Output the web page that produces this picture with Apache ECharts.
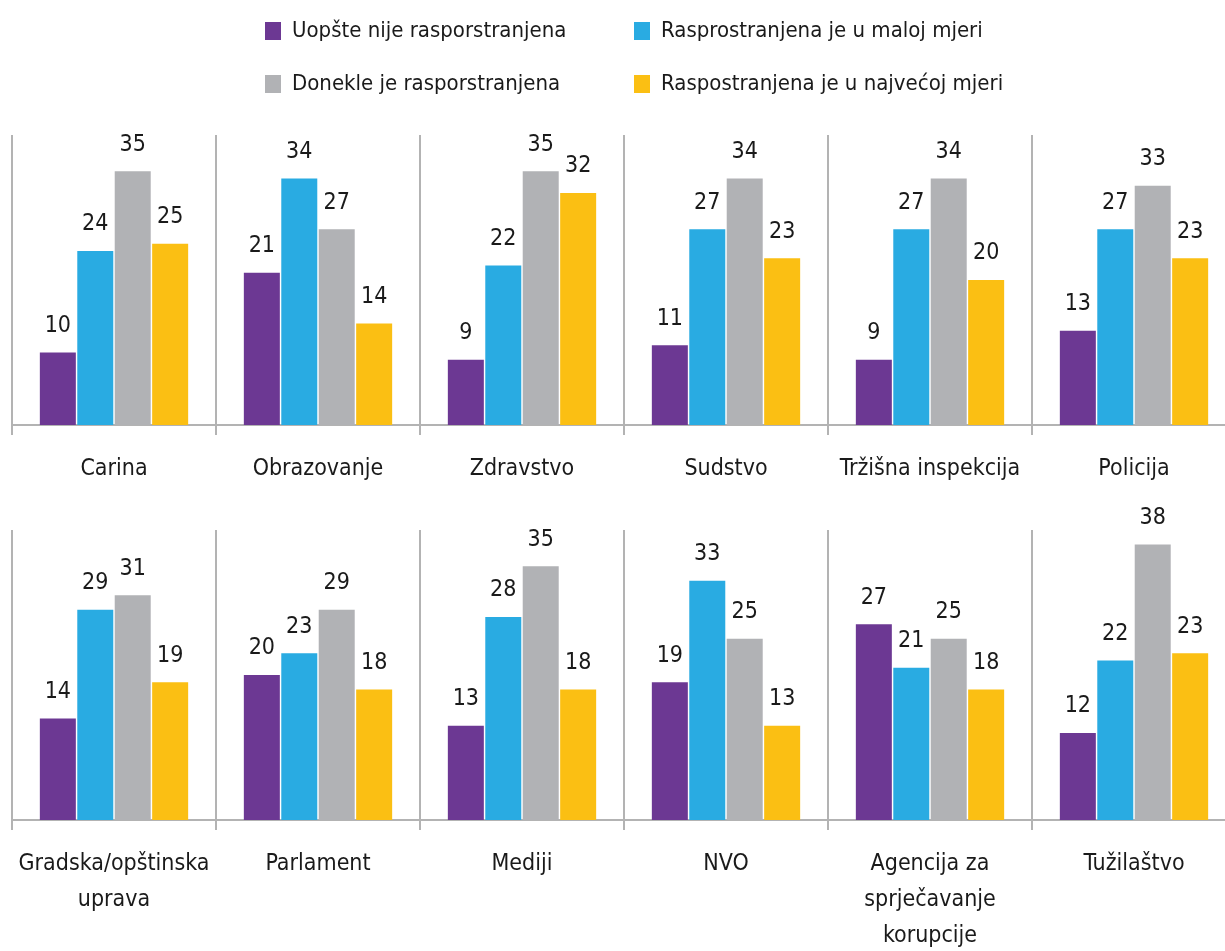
<!DOCTYPE html>
<html>
<head>
<meta charset="utf-8">
<script src="https://cdn.jsdelivr.net/npm/echarts@6/dist/echarts.min.js"></script>
<style>
  html, body { margin: 0; padding: 0; background: #fff; }
  #chart { width: 1225px; height: 951px; }
</style>
</head>
<body>
<div id="chart"></div>
<script>
const seriesNames = [
  "Uopšte nije rasporstranjena",
  "Rasprostranjena je u maloj mjeri",
  "Donekle je rasporstranjena",
  "Raspostranjena je u najvećoj mjeri"
];
const colors = ["#6c3893", "#29abe2", "#b1b2b5", "#fbbf13"];

const topCategories = ["Carina", "Obrazovanje", "Zdravstvo", "Sudstvo", "Tržišna inspekcija", "Policija"];
const topNone = [10, 21, 9, 11, 9, 13];
const topSmall = [24, 34, 22, 27, 27, 27];
const topSome = [35, 27, 35, 34, 34, 33];
const topLargest = [25, 14, 32, 23, 20, 23];

const bottomCategories = ["Gradska/opštinska\nuprava", "Parlament", "Mediji", "NVO", "Agencija za\nsprječavanje\nkorupcije", "Tužilaštvo"];
const bottomNone = [14, 20, 13, 19, 27, 12];
const bottomSmall = [29, 23, 28, 33, 21, 22];
const bottomSome = [31, 29, 35, 25, 25, 38];
const bottomLargest = [19, 18, 18, 13, 18, 23];

const FONT = '"Liberation Sans Narrow", "DejaVu Sans Condensed", "Roboto Condensed", sans-serif';
const lineColor = "#b3b3b3";

const chart = echarts.init(document.getElementById("chart"));

const makeX = (gridIndex, data) => ({
  type: "category",
  gridIndex,
  data,
  axisLine: { lineStyle: { color: lineColor, width: 2 } },
  axisTick: { show: true, interval: 0, length: 10, lineStyle: { color: lineColor, width: 2 } },
  splitLine: { show: true, interval: 0, lineStyle: { color: lineColor, width: 2 } },
  axisLabel: {
    interval: 0,
    margin: 26,
    color: "#1a1a1a",
    fontFamily: FONT,
    fontSize: 23,
    lineHeight: 36
  }
});

const makeY = (gridIndex) => ({
  type: "value",
  gridIndex,
  min: 0,
  max: 40,
  show: false
});

const makeSeries = (gridIndex, values) =>
  values.map((data, i) => ({
    name: seriesNames[i],
    type: "bar",
    xAxisIndex: gridIndex,
    yAxisIndex: gridIndex,
    data,
    barWidth: 36,
    barGap: "4%",
    itemStyle: { color: colors[i] },
    label: {
      show: true,
      position: "top",
      distance: 15,
      color: "#1a1a1a",
      fontFamily: FONT,
      fontSize: 23
    }
  }));

const legendPos = [
  { left: 260, top: 15 },
  { left: 629, top: 15 },
  { left: 260, top: 68 },
  { left: 629, top: 68 }
];

chart.setOption({
  animation: false,
  legend: seriesNames.map((name, i) => ({
    data: [name],
    left: legendPos[i].left,
    top: legendPos[i].top,
    itemWidth: 16,
    itemHeight: 18,
    icon: "rect",
    selectedMode: false,
    textStyle: { fontFamily: FONT, fontSize: 22, color: "#1a1a1a", padding: [0, 0, 0, 6] }
  })),
  grid: [
    { left: 12, width: 1224, top: 135, height: 290, outerBoundsMode: "none" },
    { left: 12, width: 1224, top: 530, height: 290, outerBoundsMode: "none" }
  ],
  xAxis: [makeX(0, topCategories), makeX(1, bottomCategories)],
  yAxis: [makeY(0), makeY(1)],
  series: [
    ...makeSeries(0, [topNone, topSmall, topSome, topLargest]),
    ...makeSeries(1, [bottomNone, bottomSmall, bottomSome, bottomLargest])
  ]
});
</script>
</body>
</html>
